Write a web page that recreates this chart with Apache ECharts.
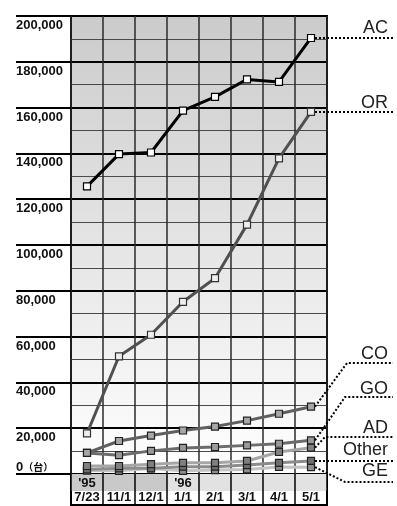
<!DOCTYPE html>
<html>
<head>
<meta charset="utf-8">
<script src="https://cdn.jsdelivr.net/npm/echarts@6/dist/echarts.min.js"></script>
<style>
html,body{margin:0;padding:0;background:#fff;}
#c{width:397px;height:506px;}
</style>
</head>
<body>
<div id="c"></div>
<script>
const categories = ['7/23','11/1','12/1','1/1','2/1','3/1','4/1','5/1'];
const yearLabels = ["'95",'','',"'96",'','','',''];
const yearColors = ['#c9c9c9','#c9c9c9','#c9c9c9','#e2e2e2','#e2e2e2','#e2e2e2','#e2e2e2','#e2e2e2'];
const seriesNames = ['AC','OR','CO','GO','AD','Other','GE'];
const AC    = [125600, 139700, 140400, 158700, 164700, 172300, 171200, 190400];
const OR    = [17700, 51400, 60800, 75200, 85500, 108900, 137800, 158100];
const CO    = [9200, 14400, 16800, 19000, 20700, 23300, 26300, 29400];
const GO    = [9200, 8200, 10100, 11400, 11800, 12500, 13200, 14700];
const AD    = [3500, 3500, 4300, 4900, 4900, 5700, 9600, 11500];
const Other = [2000, 2500, 2500, 3200, 3200, 3900, 4900, 5700];
const GE    = [1500, 1400, 2400, 1400, 1700, 2000, 3100, 3000];
const yMin = 0, yMax = 200000, yStep = 20000;

const chart = echarts.init(document.getElementById('c'), null, {renderer:'canvas'});

function lineSeries(name, data, lineColor, fill, border, z){
  return {
    name, type:'line', data, xAxisIndex:0, yAxisIndex:0, z,
    symbol:'rect', symbolSize:7, showAllSymbol:true,
    lineStyle:{color:lineColor, width:3},
    itemStyle:{color:fill, borderColor:border, borderWidth:1.2},
    emphasis:{disabled:true}, animation:false
  };
}

const option = {
  backgroundColor:'#fff',
  animation:false,
  grid:[
    {left:71, top:11, width:256, height:463, show:true, borderColor:'#000', borderWidth:2,
     backgroundColor: new echarts.graphic.LinearGradient(0,0,0,1,[{offset:0,color:'#cbcbcb'},{offset:1,color:'#ffffff'}])},
    {left:71, top:474, width:256, height:17, show:false},
    {left:71, top:474, width:256, height:31, show:true, borderColor:'#000', borderWidth:2, backgroundColor:'transparent'}
  ],
  xAxis:[
    {type:'category', gridIndex:0, data:categories, boundaryGap:true,
     axisLine:{show:false}, axisTick:{show:false}, axisLabel:{show:false},
     splitLine:{show:true, interval:0, lineStyle:{color:'#2a2a2a', width:1.5}}},
    {type:'category', gridIndex:1, data:yearLabels, boundaryGap:true, position:'bottom',
     axisLine:{show:false}, axisTick:{show:false},
     axisLabel:{show:true, inside:true, margin:1, interval:0, fontFamily:'Liberation Sans', fontWeight:'bold', fontSize:13, color:'#111'},
     splitLine:{show:false},
     splitArea:{show:true, interval:0, areaStyle:{color:yearColors}}},
    {type:'category', gridIndex:2, data:categories, boundaryGap:true, position:'bottom',
     axisLine:{show:false}, axisTick:{show:false},
     axisLabel:{show:true, inside:true, margin:1, interval:0, fontFamily:'Liberation Sans', fontWeight:'bold', fontSize:13, color:'#111'},
     splitLine:{show:true, interval:0, lineStyle:{color:'#000', width:1.5}}}
  ],
  yAxis:[
    {type:'value', gridIndex:0, min:yMin, max:yMax, interval:yStep,
     axisLine:{show:false},
     axisTick:{show:true, length:55, lineStyle:{color:'#000', width:2}},
     axisLabel:{show:true, align:'left', margin:55, showMaxLabel:true, showMinLabel:true,
       formatter: v => v === 0 ? '{z|0}{zs|（台）}' : '{n|' + v.toLocaleString('en-US') + '}',
       rich:{
         n:{fontFamily:'Liberation Sans', fontWeight:'bold', fontSize:13, color:'#111', lineHeight:13, padding:[19,0,0,0]},
         z:{fontFamily:'Liberation Sans', fontWeight:'bold', fontSize:13, color:'#111', lineHeight:13, padding:[0,0,13,0]},
         zs:{fontFamily:'Noto Sans CJK JP', fontWeight:'bold', fontSize:10, color:'#111', lineHeight:13, padding:[0,0,13,0]}
       }},
     splitLine:{show:true, lineStyle:{color:'#000', width:2}},
     minorTick:{show:false, splitNumber:2},
     minorSplitLine:{show:true, lineStyle:{color:'#4a4a4a', width:1.2}}},
    {type:'value', gridIndex:1, min:0, max:1, show:false},
    {type:'value', gridIndex:2, min:0, max:1, show:false}
  ],
  series:[
    lineSeries('GE', GE, '#c4c4c4', '#8e8e8e', '#222', 2),
    lineSeries('Other', Other, '#8c8c8c', '#6e6e6e', '#222', 3),
    lineSeries('AD', AD, '#a6a6a6', '#808080', '#222', 4),
    lineSeries('GO', GO, '#6c6c6c', '#9a9a9a', '#222', 5),
    lineSeries('CO', CO, '#606060', '#a8a8a8', '#222', 6),
    lineSeries('OR', OR, '#505050', '#eeeeee', '#333', 7),
    lineSeries('AC', AC, '#000000', '#ffffff', '#000', 8)
  ]
};
chart.setOption(option);

// leader lines and labels
const last = categories.length - 1;
function endPt(arr){ return chart.convertToPixel({xAxisIndex:0, yAxisIndex:0}, [last, arr[last]]); }
const xEnd = 393, xText = 388;
const dot = {stroke:'#000', lineWidth:2, lineDash:[2,2], fill:null};
const gfx = [];
function leader(name, arr, kneeX, barY, capCenter){
  const p = endPt(arr);
  const pts = [[p[0]+4, p[1]]];
  if (kneeX !== null) pts.push([kneeX, barY]);
  pts.push([xEnd, barY]);
  gfx.push({type:'polyline', shape:{points:pts}, style:dot, z:20, silent:true});
  gfx.push({type:'text', x:xText, y:capCenter, style:{text:name, align:'right', verticalAlign:'middle',
    font:'18px "Liberation Sans"', fill:'#222'}, z:20, silent:true});
}
const pAC = endPt(AC), pOR = endPt(OR), pOther = endPt(Other);
leader('AC', AC, null, pAC[1], pAC[1]-10);
leader('OR', OR, null, pOR[1], pOR[1]-9);
leader('CO', CO, 347, 363, 354);
leader('GO', GO, 345, 397, 389);
leader('AD', AD, 325, 437, 428);
leader('Other', Other, null, pOther[1], 450);
leader('GE', GE, 345, 482, 471);
chart.setOption({graphic: gfx});
</script>
</body>
</html>
